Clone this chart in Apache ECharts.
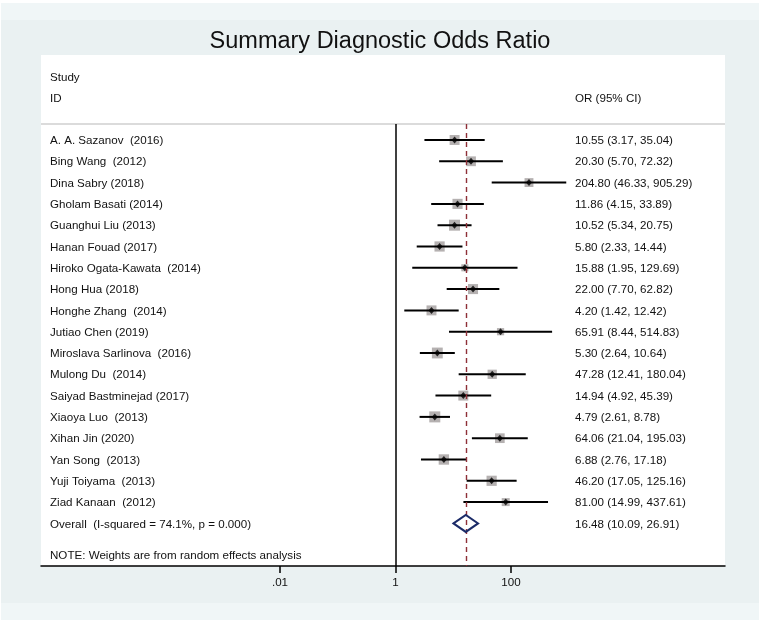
<!DOCTYPE html>
<html><head><meta charset="utf-8">
<script src="https://cdn.jsdelivr.net/npm/echarts@6/dist/echarts.min.js"></script>
<style>html,body{margin:0;padding:0;background:#fff}#c{width:760px;height:622px}</style>
</head><body><div id="c"></div><script>
const titleText = 'Summary Diagnostic Odds Ratio';
const headerLeft = ['Study', 'ID'];
const headerRight = 'OR (95% CI)';
const noteText = 'NOTE: Weights are from random effects analysis';
const studies = [
  'A. A. Sazanov  (2016)', 'Bing Wang  (2012)', 'Dina Sabry (2018)', 'Gholam Basati (2014)',
  'Guanghui Liu (2013)', 'Hanan Fouad (2017)', 'Hiroko Ogata-Kawata  (2014)', 'Hong Hua (2018)',
  'Honghe Zhang  (2014)', 'Jutiao Chen (2019)', 'Miroslava Sarlinova  (2016)', 'Mulong Du  (2014)',
  'Saiyad Bastminejad (2017)', 'Xiaoya Luo  (2013)', 'Xihan Jin (2020)', 'Yan Song  (2013)',
  'Yuji Toiyama  (2013)', 'Ziad Kanaan  (2012)'
];
const orVals = [10.55, 20.30, 204.80, 11.86, 10.52, 5.80, 15.88, 22.00, 4.20, 65.91, 5.30, 47.28, 14.94, 4.79, 64.06, 6.88, 46.20, 81.00];
const ciLow  = [3.17, 5.70, 46.33, 4.15, 5.34, 2.33, 1.95, 7.70, 1.42, 8.44, 2.64, 12.41, 4.92, 2.61, 21.04, 2.76, 17.05, 14.99];
const ciHigh = [35.04, 72.32, 905.29, 33.89, 20.75, 14.44, 129.69, 62.82, 12.42, 514.83, 10.64, 180.04, 45.39, 8.78, 195.03, 17.18, 125.16, 437.61];
const weights = [5.9, 5.7, 4.7, 6.1, 7.2, 6.2, 3.0, 6.0, 5.9, 3.1, 7.0, 5.1, 5.9, 7.2, 5.6, 6.4, 6.2, 3.8];
const overallLabel = 'Overall  (I-squared = 74.1%, p = 0.000)';
const overallEst = 16.48, overallLow = 10.09, overallHigh = 26.91;
const nullValue = 1;
const tickValues = [0.01, 1, 100];
const tickLabels = ['.01', '1', '100'];

const FONT = '"Liberation Sans", Arial, sans-serif';
const TXT = '#111111';
const fmt = v => v.toFixed(2);
const rightTexts = orVals.map((v, i) => fmt(v) + ' (' + fmt(ciLow[i]) + ', ' + fmt(ciHigh[i]) + ')')
  .concat([fmt(overallEst) + ' (' + fmt(overallLow) + ', ' + fmt(overallHigh) + ')']);
const leftTexts = studies.concat([overallLabel]);
const nRows = leftTexts.length;

const chart = echarts.init(document.getElementById('c'), null, {renderer: 'canvas'});
const GL = 41, GR = 35, GT = 124, GB = 56;
chart.setOption({
  backgroundColor: '#ffffff',
  animation: false,
  title: {
    text: titleText, left: 'center', top: 23,
    textStyle: {fontFamily: FONT, fontSize: 23.5, fontWeight: 'normal', color: TXT, lineHeight: 28}
  },
  grid: {left: GL, right: GR, top: GT, bottom: GB, containLabel: false, outerBoundsMode: 'none'},
  xAxis: {
    type: 'log', logBase: 10,
    min: Math.pow(10, -6.1385), max: Math.pow(10, 5.7056),
    splitLine: {show: false},
    axisLine: {show: true, onZero: false, lineStyle: {color: '#000', width: 1.5}},
    axisTick: {show: true, customValues: tickValues, length: 7, lineStyle: {color: '#000', width: 1.5}},
    axisLabel: {
      show: true, customValues: tickValues, margin: 11,
      fontFamily: FONT, fontSize: 11.6, color: TXT,
      formatter: v => {
        for (let k = 0; k < tickValues.length; k++) {
          if (Math.abs(Math.log10(v) - Math.log10(tickValues[k])) < 1e-6) return tickLabels[k];
        }
        return '';
      }
    }
  },
  yAxis: {type: 'value', inverse: true, min: -0.75, max: 20, show: false},
  graphic: [
    {type: 'rect', z: -10, shape: {x: 1, y: 3, width: 758, height: 617}, style: {fill: '#eaf1f2'}},
    {type: 'rect', z: -9, shape: {x: 1, y: 3, width: 758, height: 17}, style: {fill: '#f0f6f7'}},
    {type: 'rect', z: -9, shape: {x: 1, y: 603, width: 758, height: 17}, style: {fill: '#f0f6f7'}},
    {type: 'rect', z: -8, shape: {x: GL, y: 55, width: 760 - GL - GR, height: 622 - GB - 55}, style: {fill: '#ffffff'}},
    {type: 'line', z: -7, shape: {x1: GL, y1: GT, x2: 760 - GR, y2: GT}, style: {stroke: '#cfcfcf', lineWidth: 1.5}},
    {type: 'text', x: 50, y: 77.5, style: {text: headerLeft[0], font: '11.6px ' + FONT, fill: TXT, textVerticalAlign: 'middle', verticalAlign: 'middle'}},
    {type: 'text', x: 50, y: 98.5, style: {text: headerLeft[1], font: '11.6px ' + FONT, fill: TXT, textVerticalAlign: 'middle', verticalAlign: 'middle'}},
    {type: 'text', x: 575, y: 98.5, style: {text: headerRight, font: '11.6px ' + FONT, fill: TXT, textVerticalAlign: 'middle', verticalAlign: 'middle'}},
    {type: 'text', x: 50, y: 556, style: {text: noteText, font: '11.6px ' + FONT, fill: TXT, textVerticalAlign: 'middle', verticalAlign: 'middle'}}
  ],
  series: [
    {
      name: 'weights', type: 'custom', z: 2,
      data: orVals.map((v, i) => [v, i, weights[i]]),
      renderItem: (params, api) => {
        const c = api.coord([api.value(0), api.value(1)]);
        const s = 4.1 * Math.sqrt(api.value(2));
        return {type: 'rect', shape: {x: c[0] - s / 2, y: c[1] - s / 2, width: s, height: s}, style: {fill: '#b5b1b1'}};
      }
    },
    {
      name: 'ci', type: 'custom', z: 3,
      data: orVals.map((v, i) => [ciLow[i], ciHigh[i], i]),
      renderItem: (params, api) => {
        const a = api.coord([api.value(0), api.value(2)]);
        const b = api.coord([api.value(1), api.value(2)]);
        return {type: 'line', shape: {x1: a[0], y1: a[1], x2: b[0], y2: b[1]}, style: {stroke: '#000', lineWidth: 2}};
      }
    },
    {
      name: 'or', type: 'scatter', z: 4,
      symbol: 'diamond', symbolSize: [6, 7],
      itemStyle: {color: '#000'},
      data: orVals.map((v, i) => [v, i]),
      markLine: {
        silent: true, symbol: 'none', label: {show: false},
        data: [
          {xAxis: nullValue, lineStyle: {color: '#000', width: 1.5, type: 'solid'}},
          {xAxis: overallEst, lineStyle: {color: '#8e2f37', width: 1.4, type: [5, 4]}}
        ]
      }
    },
    {
      name: 'overall', type: 'custom', z: 5,
      data: [[overallEst, overallLow, overallHigh, nRows - 1]],
      renderItem: (params, api) => {
        const y = api.value(3);
        const pts = [
          api.coord([api.value(1), y]),
          api.coord([api.value(0), y - 0.4]),
          api.coord([api.value(2), y]),
          api.coord([api.value(0), y + 0.4])
        ];
        return {type: 'polygon', shape: {points: pts}, style: {fill: 'none', stroke: '#1b2b68', lineWidth: 2}};
      }
    },
    {
      name: 'leftText', type: 'custom', z: 5,
      data: leftTexts.map((t, i) => [1, i]),
      renderItem: (params, api) => {
        const c = api.coord([api.value(0), api.value(1)]);
        return {type: 'text', x: params.coordSys.x + 9, y: c[1] + 1,
          style: {text: leftTexts[params.dataIndex], font: '11.6px ' + FONT, fill: TXT, textAlign: 'left', textVerticalAlign: 'middle', verticalAlign: 'middle'}};
      }
    },
    {
      name: 'rightText', type: 'custom', z: 5,
      data: rightTexts.map((t, i) => [1, i]),
      renderItem: (params, api) => {
        const c = api.coord([api.value(0), api.value(1)]);
        return {type: 'text', x: 575, y: c[1] + 1,
          style: {text: rightTexts[params.dataIndex], font: '11.6px ' + FONT, fill: TXT, textAlign: 'left', textVerticalAlign: 'middle', verticalAlign: 'middle'}};
      }
    }
  ]
});
</script></body></html>
